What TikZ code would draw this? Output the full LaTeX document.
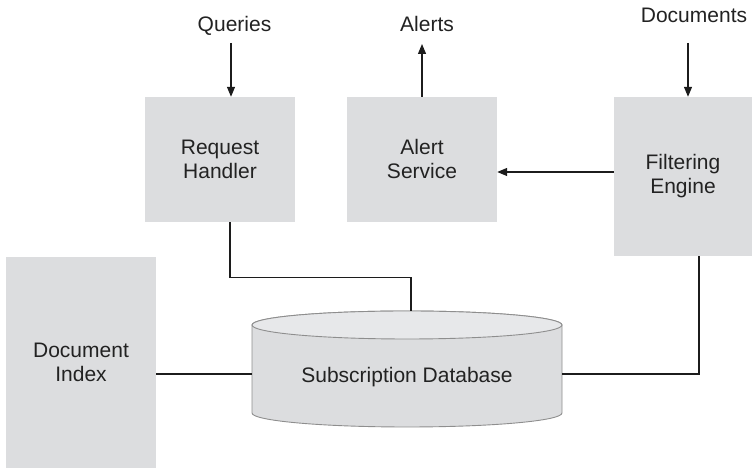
\documentclass[tikz,border=0pt]{standalone}
\usepackage{fontspec}
\setmainfont{Liberation Sans}
\usetikzlibrary{arrows.meta}
\definecolor{boxgray}{HTML}{DCDDDF}
\definecolor{topgray}{HTML}{E7E8EA}
\definecolor{rimgray}{HTML}{8E8E8E}
\definecolor{inkline}{HTML}{1C1C1C}
\definecolor{inktext}{HTML}{222222}
\tikzset{
  comp/.style={fill=boxgray, draw=none, align=center, text=inktext,
    font=\fontsize{21}{24}\selectfont, inner sep=0pt},
  extlabel/.style={text=inktext, font=\fontsize{21}{24}\selectfont, inner sep=0pt, anchor=base},
  wire/.style={draw=inkline, line width=1.2pt},
  flow/.style={wire, -{Triangle[length=10pt,width=8pt]}},
}
\begin{document}
\begin{tikzpicture}[x=1pt,y=1pt]
\useasboundingbox (0,0) rectangle (752,470);

% components
\node[comp, minimum width=150, minimum height=125] (rh) at (220,310.5) {Request\\Handler};
\node[comp, minimum width=150, minimum height=125] (as) at (422,310.5) {Alert\\Service};
\node[comp, minimum width=138, minimum height=159] (fe) at (683,293.5) {Filtering\\Engine};
\node[comp, minimum width=150, minimum height=211] (di) at (81,107.5) {Document\\Index};

% subscription database cylinder
\path[fill=boxgray, draw=rimgray, line width=0.9pt]
  (252,145) -- (252,57) arc (180:360:155 and 14) -- (562,145) arc (0:180:155 and 14) -- cycle;
\path[fill=topgray, draw=rimgray, line width=0.9pt] (407,145) ellipse (155 and 14);
\node[minimum width=310, minimum height=116, inner sep=0pt] (db) at (407,101) {};
\node[text=inktext, font=\fontsize{21}{24}\selectfont, inner sep=0pt] (dbtext) at (407,93) {Subscription Database};

% external labels
\node[extlabel] (ql) at (234.5,438.5) {Queries};
\node[extlabel] (al) at (427,438.5) {Alerts};
\node[extlabel] (dl) at (694,447) {Documents};
\coordinate (qin) at (231,427);
\coordinate (aout) at (422,426);
\coordinate (din) at (688,427);

% attachment points
\coordinate (feout) at ([yshift=4.5pt]fe.west);
\coordinate (dbleft) at ([yshift=-5pt]db.west);
\coordinate (dbright) at ([yshift=-5pt]db.east);
\coordinate (dbtop) at ([xshift=4pt]db.north);

% flows
\draw[flow] (qin) -- (qin |- rh.north);
\draw[flow] (as.north) -- (aout);
\draw[flow] (din) -- (din |- fe.north);
\draw[flow] (feout) -- (as.east |- feout);

% links to the database
\draw[wire] ([xshift=10pt]rh.south) |- ([yshift=33pt]dbtop) -- (dbtop);
\draw[wire] (di.east |- dbleft) -- (dbleft);
\draw[wire] (dbright) -| ([xshift=16pt]fe.south);
\end{tikzpicture}
\end{document}
